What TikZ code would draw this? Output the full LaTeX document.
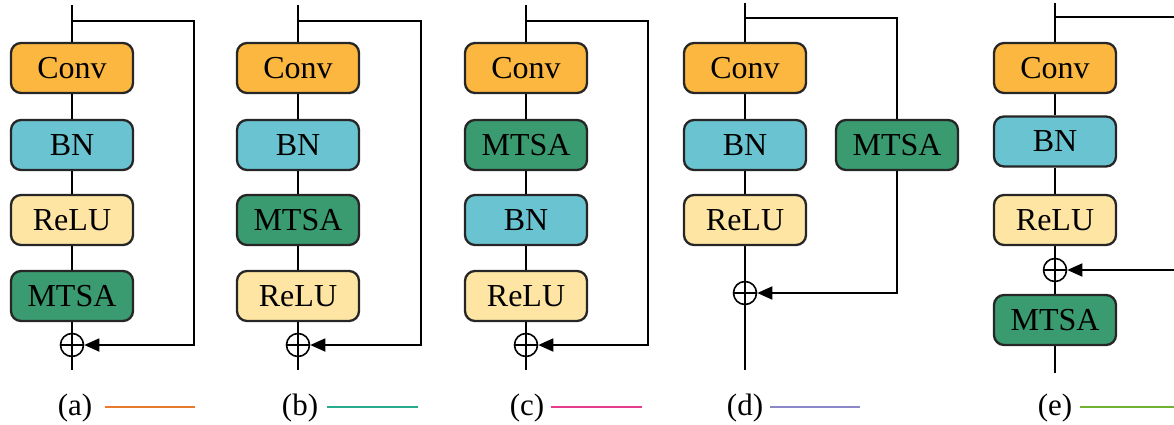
\documentclass[tikz,border=0pt]{standalone}
\usepackage{fontspec}
\setmainfont{Liberation Serif}
\usetikzlibrary{arrows.meta}
\definecolor{convc}{RGB}{251,183,64}
\definecolor{bnc}{RGB}{106,195,208}
\definecolor{reluc}{RGB}{254,229,163}
\definecolor{mtsac}{RGB}{58,154,112}
\definecolor{la}{RGB}{232,122,45}
\definecolor{lb}{RGB}{40,170,140}
\definecolor{lc}{RGB}{230,60,140}
\definecolor{ld}{RGB}{140,135,200}
\definecolor{le}{RGB}{110,180,50}
\tikzset{
  blk/.style={draw=black!85, line width=2.3pt, rounded corners=10pt, minimum width=122pt, minimum height=50pt, inner sep=0pt, font=\fontsize{32}{36}\selectfont},
  conv/.style={blk, fill=convc},
  bn/.style={blk, fill=bnc},
  relu/.style={blk, fill=reluc},
  mtsa/.style={blk, fill=mtsac},
  addop/.style={draw, circle, line width=1.6pt, minimum size=23pt, inner sep=0pt,
    path picture={\draw[line width=1.6pt] (path picture bounding box.north) -- (path picture bounding box.south) (path picture bounding box.west) -- (path picture bounding box.east);}},
  wire/.style={line width=1.8pt},
  skiparrow/.style={wire, -{Triangle[length=15pt,width=13pt]}},
  lab/.style={font=\fontsize{31}{34}\selectfont, inner sep=0pt},
  legline/.style={line width=2.8pt}
}
\begin{document}
\begin{tikzpicture}[x=1pt,y=-1pt]
\useasboundingbox (0,0) rectangle (1174,425);

% ---------- (a)
\coordinate (a-in) at (72,5);
\coordinate (a-j) at (72,21);
\coordinate (a-rt) at (194,21);
\coordinate (a-rb) at (194,345);
\coordinate (a-out) at (72,370);
\node[conv] (a-conv) at (72,68) {Conv};
\node[bn] (a-bn) at (72,145) {BN};
\node[relu] (a-relu) at (72,220) {ReLU};
\node[mtsa] (a-mtsa) at (72,296) {MTSA};
\node[addop] (a-plus) at (72,345) {};
\draw[wire] (a-in) -- (a-conv);
\draw[wire] (a-conv) -- (a-bn);
\draw[wire] (a-bn) -- (a-relu);
\draw[wire] (a-relu) -- (a-mtsa);
\draw[wire] (a-mtsa) -- (a-plus);
\draw[wire] (a-plus) -- (a-out);
\draw[skiparrow] (a-j) -- (a-rt) -- (a-rb) -- (a-plus);
\node[lab] (a-lab) at (75,408) {(a)};
\coordinate (a-l1) at (105,407);
\coordinate (a-l2) at (195,407);
\draw[legline, la] (a-l1) -- (a-l2);

% ---------- (b)
\coordinate (b-in) at (298,5);
\coordinate (b-j) at (298,21);
\coordinate (b-rt) at (421,21);
\coordinate (b-rb) at (421,345);
\coordinate (b-out) at (298,370);
\node[conv] (b-conv) at (298,68) {Conv};
\node[bn] (b-bn) at (298,145) {BN};
\node[mtsa] (b-mtsa) at (298,220) {MTSA};
\node[relu] (b-relu) at (298,296) {ReLU};
\node[addop] (b-plus) at (298,345) {};
\draw[wire] (b-in) -- (b-conv);
\draw[wire] (b-conv) -- (b-bn);
\draw[wire] (b-bn) -- (b-mtsa);
\draw[wire] (b-mtsa) -- (b-relu);
\draw[wire] (b-relu) -- (b-plus);
\draw[wire] (b-plus) -- (b-out);
\draw[skiparrow] (b-j) -- (b-rt) -- (b-rb) -- (b-plus);
\node[lab] (b-lab) at (300,408) {(b)};
\coordinate (b-l1) at (327,407);
\coordinate (b-l2) at (418,407);
\draw[legline, lb] (b-l1) -- (b-l2);

% ---------- (c)
\coordinate (c-in) at (526,5);
\coordinate (c-j) at (526,21);
\coordinate (c-rt) at (648,21);
\coordinate (c-rb) at (648,345);
\coordinate (c-out) at (526,370);
\node[conv] (c-conv) at (526,68) {Conv};
\node[mtsa] (c-mtsa) at (526,145) {MTSA};
\node[bn] (c-bn) at (526,220) {BN};
\node[relu] (c-relu) at (526,296) {ReLU};
\node[addop] (c-plus) at (526,345) {};
\draw[wire] (c-in) -- (c-conv);
\draw[wire] (c-conv) -- (c-mtsa);
\draw[wire] (c-mtsa) -- (c-bn);
\draw[wire] (c-bn) -- (c-relu);
\draw[wire] (c-relu) -- (c-plus);
\draw[wire] (c-plus) -- (c-out);
\draw[skiparrow] (c-j) -- (c-rt) -- (c-rb) -- (c-plus);
\node[lab] (c-lab) at (527,408) {(c)};
\coordinate (c-l1) at (551,407);
\coordinate (c-l2) at (642,407);
\draw[legline, lc] (c-l1) -- (c-l2);

% ---------- (d)
\coordinate (d-in) at (745,3);
\coordinate (d-j) at (745,18);
\coordinate (d-rt) at (897,18);
\coordinate (d-rb) at (897,293);
\coordinate (d-out) at (745,370);
\node[conv] (d-conv) at (745,68) {Conv};
\node[bn] (d-bn) at (745,145) {BN};
\node[relu] (d-relu) at (745,220) {ReLU};
\node[mtsa] (d-mtsa) at (897,145) {MTSA};
\node[addop] (d-plus) at (745,293) {};
\draw[wire] (d-in) -- (d-conv);
\draw[wire] (d-conv) -- (d-bn);
\draw[wire] (d-bn) -- (d-relu);
\draw[wire] (d-relu) -- (d-plus);
\draw[wire] (d-plus) -- (d-out);
\draw[wire] (d-j) -- (d-rt) -- (d-mtsa);
\draw[skiparrow] (d-mtsa) -- (d-rb) -- (d-plus);
\node[lab] (d-lab) at (745,408) {(d)};
\coordinate (d-l1) at (770,407);
\coordinate (d-l2) at (860,407);
\draw[legline, ld] (d-l1) -- (d-l2);

% ---------- (e)
\coordinate (e-in) at (1055,3);
\coordinate (e-j) at (1055,17);
\coordinate (e-rt) at (1174,17);
\coordinate (e-rb) at (1174,270);
\coordinate (e-out) at (1055,373);
\node[conv] (e-conv) at (1055,68) {Conv};
\node[bn] (e-bn) at (1055,141.5) {BN};
\node[relu] (e-relu) at (1055,220) {ReLU};
\node[addop] (e-plus) at (1055,270) {};
\node[mtsa] (e-mtsa) at (1055,320) {MTSA};
\draw[wire] (e-in) -- (e-conv);
\draw[wire] (e-conv) -- (e-bn);
\draw[wire] (e-bn) -- (e-relu);
\draw[wire] (e-relu) -- (e-plus);
\draw[wire] (e-plus) -- (e-mtsa);
\draw[wire] (e-mtsa) -- (e-out);
\draw[wire] (e-j) -- (e-rt);
\draw[skiparrow] (e-rb) -- (e-plus);
\node[lab] (e-lab) at (1055,408) {(e)};
\coordinate (e-l1) at (1080,407);
\coordinate (e-l2) at (1174,407);
\draw[legline, le] (e-l1) -- (e-l2);
\end{tikzpicture}
\end{document}
